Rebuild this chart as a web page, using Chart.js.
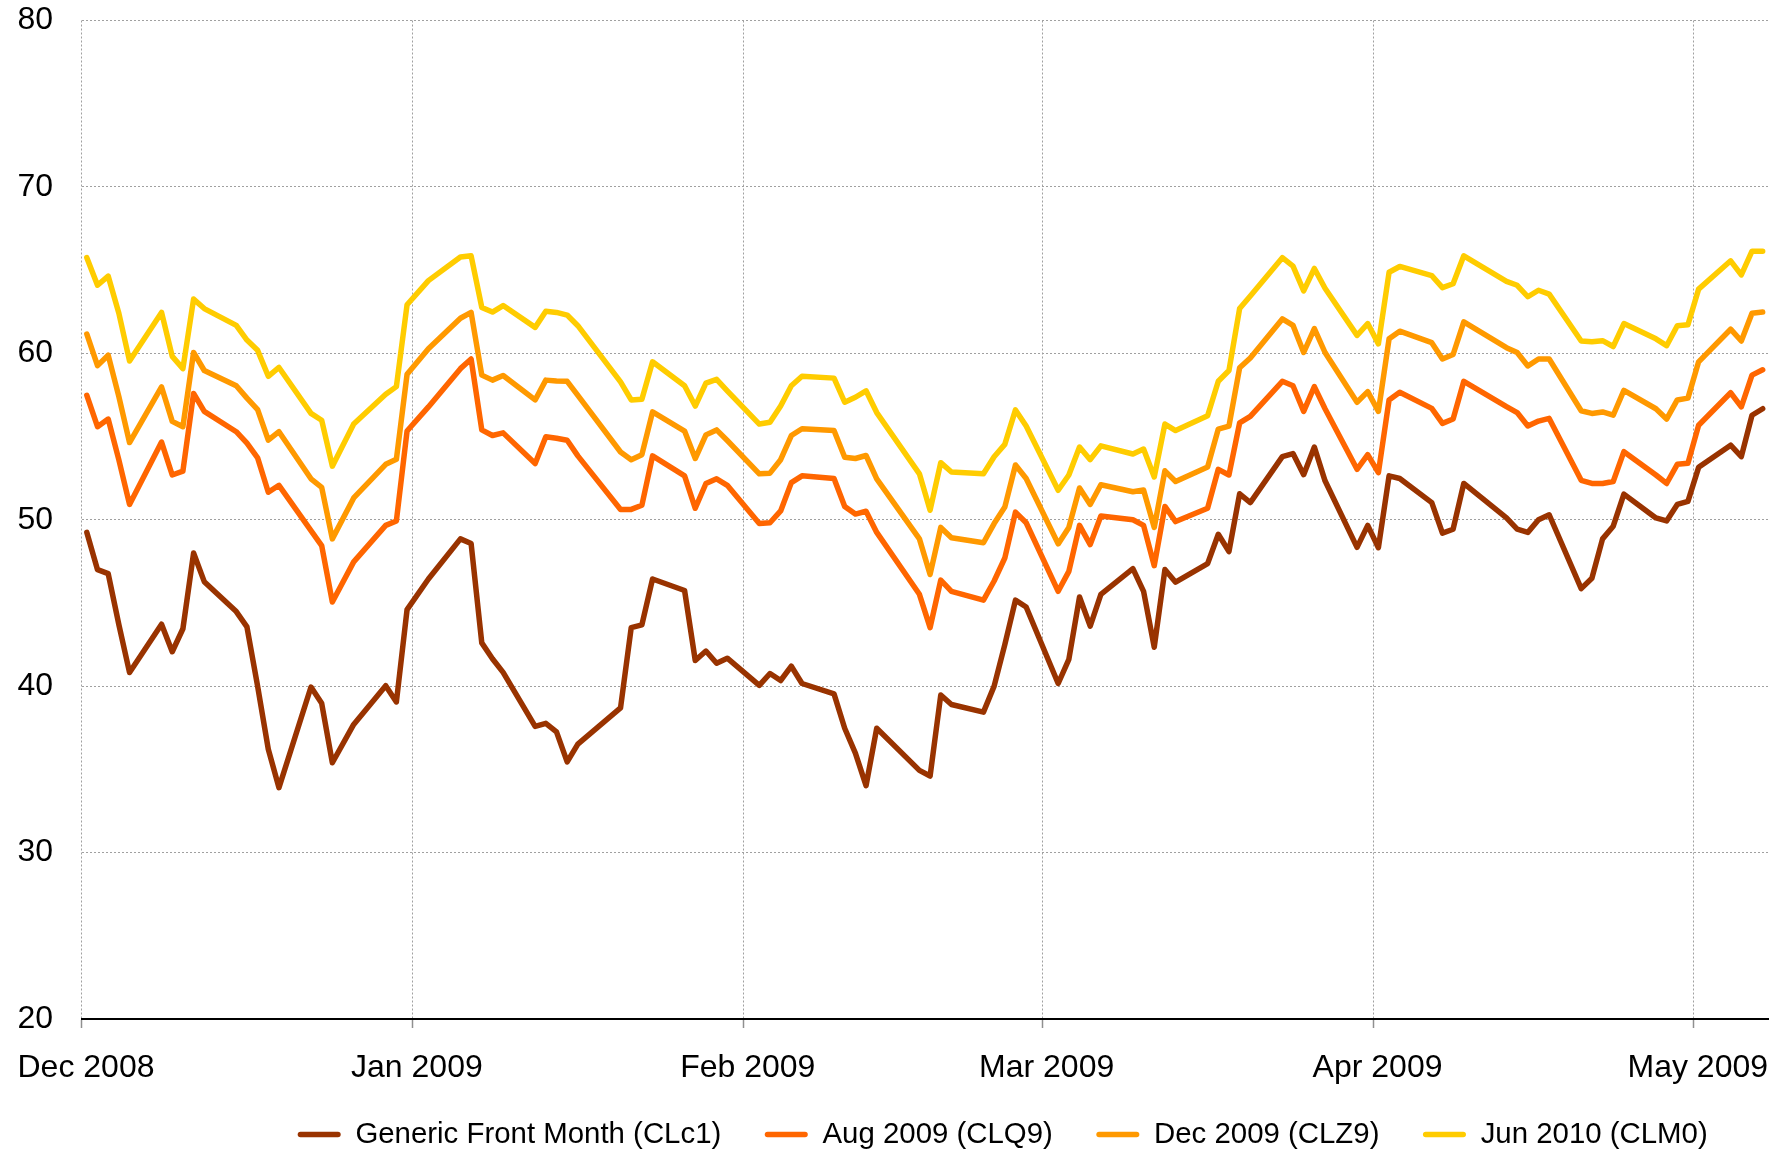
<!DOCTYPE html>
<html>
<head>
<meta charset="utf-8">
<script src="https://cdn.jsdelivr.net/npm/chart.js@4.4.1/dist/chart.umd.min.js"></script>
<style>
html,body{margin:0;padding:0;background:#fff;}
#wrap{width:1775px;height:1154px;position:relative;}
</style>
</head>
<body>
<div id="wrap"><canvas id="c"></canvas></div>
<script>
const dates = [
'2008-12-01','2008-12-02','2008-12-03','2008-12-04','2008-12-05',
'2008-12-08','2008-12-09','2008-12-10','2008-12-11','2008-12-12',
'2008-12-15','2008-12-16','2008-12-17','2008-12-18','2008-12-19',
'2008-12-22','2008-12-23','2008-12-24','2008-12-26',
'2008-12-29','2008-12-30','2008-12-31',
'2009-01-02',
'2009-01-05','2009-01-06','2009-01-07','2009-01-08','2009-01-09',
'2009-01-12','2009-01-13','2009-01-14','2009-01-15','2009-01-16',
'2009-01-20','2009-01-21','2009-01-22','2009-01-23',
'2009-01-26','2009-01-27','2009-01-28','2009-01-29','2009-01-30',
'2009-02-02','2009-02-03','2009-02-04','2009-02-05','2009-02-06',
'2009-02-09','2009-02-10','2009-02-11','2009-02-12','2009-02-13',
'2009-02-17','2009-02-18','2009-02-19','2009-02-20',
'2009-02-23','2009-02-24','2009-02-25','2009-02-26','2009-02-27',
'2009-03-02','2009-03-03','2009-03-04','2009-03-05','2009-03-06',
'2009-03-09','2009-03-10','2009-03-11','2009-03-12','2009-03-13',
'2009-03-16','2009-03-17','2009-03-18','2009-03-19','2009-03-20',
'2009-03-23','2009-03-24','2009-03-25','2009-03-26','2009-03-27',
'2009-03-30','2009-03-31','2009-04-01','2009-04-02','2009-04-03',
'2009-04-06','2009-04-07','2009-04-08','2009-04-09',
'2009-04-13','2009-04-14','2009-04-15','2009-04-16','2009-04-17',
'2009-04-20','2009-04-21','2009-04-22','2009-04-23','2009-04-24',
'2009-04-27','2009-04-28','2009-04-29','2009-04-30','2009-05-01',
'2009-05-04','2009-05-05','2009-05-06','2009-05-07'
];

const clc1 = [
49.24,47.00,46.76,43.70,40.82,
43.72,42.07,43.45,48.00,46.28,
44.48,43.56,40.00,36.21,33.90,
39.95,38.97,35.40,37.70,
40.03,39.05,44.60,
46.44,
48.85,48.57,42.60,41.65,40.83,
37.58,37.77,37.25,35.45,36.52,
38.70,43.52,43.68,46.44,
45.75,41.54,42.11,41.38,41.68,
40.05,40.76,40.34,41.20,40.16,
39.54,37.47,35.98,34.02,37.47,
34.94,34.60,39.47,38.90,
38.44,40.00,42.50,45.17,44.76,
40.16,41.61,45.36,43.61,45.52,
47.06,45.70,42.34,47.01,46.25,
47.36,49.13,48.09,51.56,51.03,
53.79,53.98,52.71,54.37,52.34,
48.34,49.66,48.32,52.64,52.48,
51.03,49.20,49.43,52.18,
50.11,49.43,49.24,50.00,50.30,
45.86,46.48,48.85,49.61,51.54,
50.11,49.93,50.92,51.10,53.15,
54.48,53.79,56.28,56.67
];

const clq9 = [
57.47,55.59,56.05,53.60,50.92,
54.67,52.69,52.92,57.59,56.51,
55.29,54.60,53.72,51.65,52.07,
49.35,48.45,45.06,47.47,
49.66,49.93,55.33,
56.78,
59.08,59.66,55.40,55.06,55.22,
53.38,54.99,54.90,54.78,53.84,
50.62,50.62,50.87,53.84,
52.64,50.69,52.18,52.46,52.07,
49.77,49.82,50.53,52.23,52.64,
52.48,50.80,50.34,50.51,49.24,
45.52,43.52,46.37,45.70,
45.17,46.32,47.70,50.46,49.82,
45.70,46.90,49.66,48.51,50.23,
50.00,49.66,47.24,50.80,49.89,
50.69,53.03,52.69,55.82,56.21,
58.32,58.05,56.51,58.00,56.67,
53.03,53.91,52.83,57.20,57.66,
56.69,55.79,56.05,58.32,
56.80,56.44,55.63,55.93,56.09,
52.37,52.18,52.18,52.30,54.09,
52.69,52.18,53.33,53.40,55.68,
57.63,56.78,58.69,59.01
];

const clz9 = [
61.15,59.26,59.89,57.40,54.64,
57.98,55.91,55.59,60.05,58.97,
58.05,57.31,56.62,54.78,55.29,
52.46,51.95,48.85,51.31,
53.33,53.63,58.74,
60.28,
62.11,62.46,58.69,58.39,58.67,
57.20,58.39,58.34,58.32,57.47,
54.07,53.61,53.91,56.48,
55.33,53.68,55.10,55.40,54.76,
52.76,52.80,53.61,55.06,55.47,
55.36,53.75,53.68,53.86,52.46,
48.85,46.71,49.54,48.92,
48.62,49.77,50.76,53.29,52.48,
48.55,49.54,51.91,50.92,52.10,
51.68,51.79,49.54,52.94,52.30,
53.17,55.45,55.63,59.13,59.72,
62.07,61.68,60.05,61.49,60.05,
57.06,57.70,56.51,60.87,61.33,
60.64,59.66,59.93,61.89,
60.34,60.05,59.24,59.66,59.66,
56.55,56.39,56.48,56.28,57.77,
56.67,56.05,57.20,57.31,59.49,
61.45,60.74,62.41,62.48
];

const clm0 = [
65.75,64.09,64.64,62.41,59.54,
62.46,59.82,59.08,63.26,62.69,
61.68,60.80,60.18,58.62,59.15,
56.39,55.98,53.22,55.75,
57.54,58.00,62.92,
64.37,
65.79,65.86,62.76,62.48,62.87,
61.56,62.53,62.46,62.30,61.66,
58.28,57.20,57.24,59.49,
58.05,56.83,58.21,58.44,57.75,
55.75,55.86,56.83,58.05,58.62,
58.51,57.06,57.36,57.75,56.44,
52.76,50.57,53.43,52.87,
52.76,53.79,54.53,56.60,55.63,
51.77,52.69,54.37,53.61,54.44,
53.95,54.25,52.57,55.75,55.36,
56.25,58.32,58.97,62.69,63.45,
65.75,65.24,63.75,65.10,63.91,
61.08,61.79,60.57,64.87,65.22,
64.67,63.95,64.18,65.86,
64.32,64.09,63.40,63.79,63.56,
60.74,60.69,60.76,60.41,61.79,
60.87,60.46,61.66,61.72,63.86,
65.56,64.71,66.14,66.14
];

const seriesNames = ['Generic Front Month (CLc1)','Aug 2009 (CLQ9)','Dec 2009 (CLZ9)','Jun 2010 (CLM0)'];
const seriesColors = ['#993300','#FF6600','#FF9900','#FFCC00'];
const tickDates = ['2008-12-01','2009-01-01','2009-02-01','2009-03-01','2009-04-01','2009-05-01'];
const tickLabels = ['Dec 2008','Jan 2009','Feb 2009','Mar 2009','Apr 2009','May 2009'];
const axisStart = '2008-12-01';
const axisEnd = '2009-05-08';
const yTicks = [20,30,40,50,60,70,80];

function dayOf(s){
  const p = s.split('-').map(Number);
  const q = axisStart.split('-').map(Number);
  return (Date.UTC(p[0],p[1]-1,p[2]) - Date.UTC(q[0],q[1]-1,q[2])) / 86400000;
}
const tickPos = tickDates.map(dayOf);

function mk(vals, i){
  return {
    label: seriesNames[i],
    data: dates.map((d,k)=>({x: dayOf(d)+0.5, y: vals[k]})),
    borderColor: seriesColors[i],
    backgroundColor: seriesColors[i],
    borderWidth: 5.5,
    pointRadius: 0,
    tension: 0,
    borderJoinStyle: 'round',
    borderCapStyle: 'round',
    fill: false
  };
}

const FONT = "'Liberation Sans', Arial, sans-serif";
const LEGEND_START_X = 297.7;
const LEGEND_CENTER_Y = 1134.5;

const legendPlace = {
  id: 'legendPlace',
  afterLayout(chart){
    const l = chart.legend;
    if (!l) return;
    const lab = l.options.labels;
    const p = lab.padding;
    const fs = lab.font.size;
    l.left = LEGEND_START_X - p;
    l.width = l.right - l.left;
    const h = l.height;
    l.top = LEGEND_CENTER_Y - p - fs / 2;
    l.bottom = l.top + h;
  }
};

new Chart(document.getElementById('c'), {
  type: 'line',
  data: { datasets: [mk(clc1,0), mk(clq9,1), mk(clz9,2), mk(clm0,3)] },
  plugins: [legendPlace],
  options: {
    responsive: true,
    maintainAspectRatio: false,
    animation: false,
    devicePixelRatio: 1,
    layout: { padding: { top: 20.5, right: 7, bottom: -27.9, left: 0 } },
    plugins: {
      tooltip: { enabled: false },
      legend: {
        position: 'bottom',
        align: 'start',
        labels: {
          boxWidth: 43,
          boxHeight: 5.5,
          padding: 43.5,
          color: '#000',
          useBorderRadius: true,
          borderRadius: 2.75,
          font: { family: FONT, size: 29.4 },
          generateLabels: (chart) => chart.data.datasets.map((ds,i)=>({
            text: ds.label, fillStyle: ds.borderColor, strokeStyle: ds.borderColor,
            lineWidth: 0, borderRadius: 2.75, datasetIndex: i, hidden: false, fontColor: '#000'
          }))
        }
      }
    },
    scales: {
      x: {
        type: 'linear',
        min: dayOf(axisStart),
        max: dayOf(axisEnd),
        afterBuildTicks: (s) => { s.ticks = tickPos.map(v=>({value:v})); },
        afterFit: (s) => { s.height = 80; s.paddingLeft = 0; s.paddingRight = 0; },
        ticks: {
          autoSkip: false,
          maxRotation: 0,
          padding: 21,
          labelOffset: 4.5,
          color: '#000',
          font: { family: FONT, size: 32 },
          callback: (v) => { const i = tickPos.indexOf(v); return i >= 0 ? tickLabels[i] : ''; }
        },
        grid: {
          color: '#a0a0a0',
          lineWidth: 1,
          drawTicks: true,
          tickLength: 9,
          tickColor: '#909090',
          tickWidth: 1.5,
          tickBorderDash: []
        },
        border: { display: true, color: '#000', width: 2, dash: [2,2] }
      },
      y: {
        min: 20,
        max: 80,
        afterBuildTicks: (s) => { s.ticks = yTicks.map(v=>({value:v})); },
        afterFit: (s) => { s.width = 81.5; s.paddingTop = 0; s.paddingBottom = 0; },
        ticks: {
          padding: 28.5,
          color: '#000',
          font: { family: FONT, size: 32 }
        },
        grid: { color: '#a0a0a0', lineWidth: 1, drawTicks: false },
        border: { display: false, dash: [2,2] }
      }
    }
  }
});
</script>
</body>
</html>
